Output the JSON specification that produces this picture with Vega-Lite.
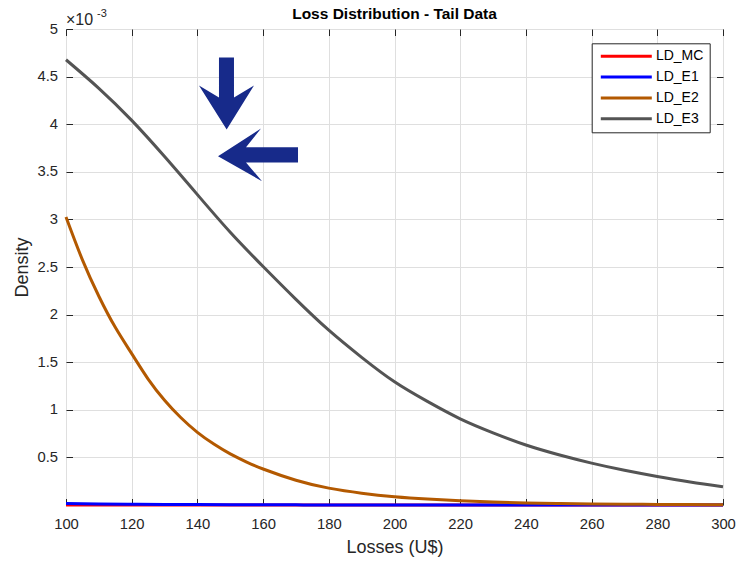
{
  "$schema": "https://vega.github.io/schema/vega-lite/v6.json",
  "autosize": {"type": "none"},
  "padding": {"left": 66, "top": 29, "right": 16, "bottom": 60},
  "width": 657,
  "height": 476,
  "background": "white",
  "config": {
    "font": "Liberation Sans",
    "view": {"stroke": "#555555", "strokeWidth": 1}
  },
  "title": {
    "text": "Loss Distribution - Tail Data",
    "fontSize": 15.5,
    "fontWeight": "bold",
    "color": "#000000",
    "font": "Liberation Sans",
    "anchor": "middle",
    "frame": "group",
    "baseline": "alphabetic",
    "offset": -26.8
  },
  "datasets": {
    "curves": [
      {"Losses": 100, "Series": "LD_MC", "Density": 0},
      {"Losses": 110, "Series": "LD_MC", "Density": 0},
      {"Losses": 120, "Series": "LD_MC", "Density": 0},
      {"Losses": 130, "Series": "LD_MC", "Density": 0},
      {"Losses": 140, "Series": "LD_MC", "Density": 0},
      {"Losses": 150, "Series": "LD_MC", "Density": 0},
      {"Losses": 160, "Series": "LD_MC", "Density": 0},
      {"Losses": 170, "Series": "LD_MC", "Density": 0},
      {"Losses": 180, "Series": "LD_MC", "Density": 0},
      {"Losses": 190, "Series": "LD_MC", "Density": 0},
      {"Losses": 200, "Series": "LD_MC", "Density": 0},
      {"Losses": 210, "Series": "LD_MC", "Density": 0},
      {"Losses": 220, "Series": "LD_MC", "Density": 0},
      {"Losses": 230, "Series": "LD_MC", "Density": 0},
      {"Losses": 240, "Series": "LD_MC", "Density": 0},
      {"Losses": 250, "Series": "LD_MC", "Density": 0},
      {"Losses": 260, "Series": "LD_MC", "Density": 0},
      {"Losses": 270, "Series": "LD_MC", "Density": 0},
      {"Losses": 280, "Series": "LD_MC", "Density": 0},
      {"Losses": 290, "Series": "LD_MC", "Density": 0},
      {"Losses": 300, "Series": "LD_MC", "Density": 0},
      {"Losses": 100, "Series": "LD_E1", "Density": 0.000016},
      {"Losses": 110, "Series": "LD_E1", "Density": 0.000011},
      {"Losses": 120, "Series": "LD_E1", "Density": 0.000008},
      {"Losses": 130, "Series": "LD_E1", "Density": 0.0000055},
      {"Losses": 140, "Series": "LD_E1", "Density": 0.000004},
      {"Losses": 150, "Series": "LD_E1", "Density": 0.0000028},
      {"Losses": 160, "Series": "LD_E1", "Density": 0.000002},
      {"Losses": 170, "Series": "LD_E1", "Density": 0.0000014},
      {"Losses": 180, "Series": "LD_E1", "Density": 0.000001},
      {"Losses": 190, "Series": "LD_E1", "Density": 0.0000007},
      {"Losses": 200, "Series": "LD_E1", "Density": 0.0000005},
      {"Losses": 210, "Series": "LD_E1", "Density": 0.0000004},
      {"Losses": 220, "Series": "LD_E1", "Density": 0.0000003},
      {"Losses": 230, "Series": "LD_E1", "Density": 0.0000002},
      {"Losses": 240, "Series": "LD_E1", "Density": 0.0000002},
      {"Losses": 250, "Series": "LD_E1", "Density": 0.0000001},
      {"Losses": 260, "Series": "LD_E1", "Density": 0.0000001},
      {"Losses": 270, "Series": "LD_E1", "Density": 0.0000001},
      {"Losses": 280, "Series": "LD_E1", "Density": 0.0000001},
      {"Losses": 290, "Series": "LD_E1", "Density": 0},
      {"Losses": 300, "Series": "LD_E1", "Density": 0},
      {"Losses": 100, "Series": "LD_E2", "Density": 0.003025},
      {"Losses": 105, "Series": "LD_E2", "Density": 0.002575},
      {"Losses": 110, "Series": "LD_E2", "Density": 0.002193},
      {"Losses": 115, "Series": "LD_E2", "Density": 0.001866},
      {"Losses": 120, "Series": "LD_E2", "Density": 0.00159},
      {"Losses": 125, "Series": "LD_E2", "Density": 0.001323},
      {"Losses": 130, "Series": "LD_E2", "Density": 0.001101},
      {"Losses": 135, "Series": "LD_E2", "Density": 0.000916},
      {"Losses": 140, "Series": "LD_E2", "Density": 0.000763},
      {"Losses": 145, "Series": "LD_E2", "Density": 0.00064},
      {"Losses": 150, "Series": "LD_E2", "Density": 0.000537},
      {"Losses": 155, "Series": "LD_E2", "Density": 0.000451},
      {"Losses": 160, "Series": "LD_E2", "Density": 0.000378},
      {"Losses": 170, "Series": "LD_E2", "Density": 0.00026},
      {"Losses": 180, "Series": "LD_E2", "Density": 0.000177},
      {"Losses": 190, "Series": "LD_E2", "Density": 0.000124},
      {"Losses": 200, "Series": "LD_E2", "Density": 0.000087},
      {"Losses": 210, "Series": "LD_E2", "Density": 0.000062},
      {"Losses": 220, "Series": "LD_E2", "Density": 0.000044},
      {"Losses": 230, "Series": "LD_E2", "Density": 0.000031},
      {"Losses": 240, "Series": "LD_E2", "Density": 0.000022},
      {"Losses": 250, "Series": "LD_E2", "Density": 0.000016},
      {"Losses": 260, "Series": "LD_E2", "Density": 0.000011},
      {"Losses": 270, "Series": "LD_E2", "Density": 0.000008},
      {"Losses": 280, "Series": "LD_E2", "Density": 0.000006},
      {"Losses": 290, "Series": "LD_E2", "Density": 0.000004},
      {"Losses": 300, "Series": "LD_E2", "Density": 0.000003},
      {"Losses": 100, "Series": "LD_E3", "Density": 0.004677},
      {"Losses": 110, "Series": "LD_E3", "Density": 0.004377},
      {"Losses": 120, "Series": "LD_E3", "Density": 0.00404},
      {"Losses": 130, "Series": "LD_E3", "Density": 0.00366},
      {"Losses": 140, "Series": "LD_E3", "Density": 0.00326},
      {"Losses": 150, "Series": "LD_E3", "Density": 0.002865},
      {"Losses": 160, "Series": "LD_E3", "Density": 0.002505},
      {"Losses": 170, "Series": "LD_E3", "Density": 0.00216},
      {"Losses": 180, "Series": "LD_E3", "Density": 0.001836},
      {"Losses": 190, "Series": "LD_E3", "Density": 0.001551},
      {"Losses": 200, "Series": "LD_E3", "Density": 0.001294},
      {"Losses": 210, "Series": "LD_E3", "Density": 0.001088},
      {"Losses": 220, "Series": "LD_E3", "Density": 0.000905},
      {"Losses": 230, "Series": "LD_E3", "Density": 0.000758},
      {"Losses": 240, "Series": "LD_E3", "Density": 0.00063},
      {"Losses": 250, "Series": "LD_E3", "Density": 0.000528},
      {"Losses": 260, "Series": "LD_E3", "Density": 0.00044},
      {"Losses": 270, "Series": "LD_E3", "Density": 0.000365},
      {"Losses": 280, "Series": "LD_E3", "Density": 0.0003},
      {"Losses": 290, "Series": "LD_E3", "Density": 0.000242},
      {"Losses": 300, "Series": "LD_E3", "Density": 0.000192}
    ],
    "pointers": [
      {"Losses": 148.7, "Density": 0.004323, "Pointer": "down"},
      {"Losses": 158.45, "Density": 0.003678, "Pointer": "left"}
    ],
    "exponent": [
      {"Losses": 100, "Density": 0.005, "Base": "×10", "Power": "-3"}
    ]
  },
  "layer": [
    {
      "data": {"name": "curves"},
      "mark": {"type": "line", "strokeWidth": 3, "interpolate": "natural"},
      "encoding": {
        "x": {
          "field": "Losses",
          "type": "quantitative",
          "scale": {"domain": [100, 300], "nice": false, "zero": false},
          "axis": {
            "orient": "bottom",
            "values": [100, 120, 140, 160, 180, 200, 220, 240, 260, 280, 300],
            "title": "Losses (U$)",
            "titleFont": "Liberation Sans",
            "titleFontSize": 18,
            "titleFontWeight": "normal",
            "titleColor": "#262626",
            "titlePadding": 7,
            "labelFont": "Liberation Sans",
            "labelFontSize": 14.8,
            "labelColor": "#262626",
            "labelPadding": 18,
            "labelFlush": false,
            "labelOverlap": false,
            "domain": false,
            "ticks": true,
            "tickSize": -6.5,
            "tickColor": "#262626",
            "tickWidth": 1,
            "grid": true,
            "gridColor": "#dfdfdf",
            "gridWidth": 1
          }
        },
        "y": {
          "field": "Density",
          "type": "quantitative",
          "scale": {"domain": [0, 0.005], "nice": false, "zero": true},
          "axis": {
            "orient": "left",
            "values": [0, 0.0005, 0.001, 0.0015, 0.002, 0.0025, 0.003, 0.0035, 0.004, 0.0045, 0.005],
            "labelExpr": "datum.value == 0 ? '' : format(datum.value * 1000, '.2~f')",
            "title": "Density",
            "titleFont": "Liberation Sans",
            "titleFontSize": 18,
            "titleFontWeight": "normal",
            "titleColor": "#262626",
            "titlePadding": 5,
            "labelFont": "Liberation Sans",
            "labelFontSize": 14.8,
            "labelColor": "#262626",
            "labelPadding": 15,
            "labelFlush": false,
            "labelOverlap": false,
            "domain": false,
            "ticks": true,
            "tickSize": -6.5,
            "tickColor": "#262626",
            "tickWidth": 1,
            "grid": true,
            "gridColor": "#dfdfdf",
            "gridWidth": 1
          }
        },
        "color": {
          "field": "Series",
          "type": "nominal",
          "scale": {
            "domain": ["LD_MC", "LD_E1", "LD_E2", "LD_E3"],
            "range": ["#ff0000", "#0000ff", "#b35900", "#545454"]
          },
          "legend": {
            "orient": "none",
            "direction": "vertical",
            "legendX": 525.7,
            "legendY": 14.3,
            "title": null,
            "symbolType": "M -6.375 0 L 6.375 0",
            "symbolSize": 64,
            "symbolStrokeWidth": 3,
            "symbolOffset": 21.6,
            "labelFont": "Liberation Sans",
            "labelFontSize": 14,
            "labelColor": "#000000",
            "labelOffset": 22.6,
            "fillColor": "#ffffff",
            "strokeColor": "#262626",
            "padding": 6,
            "rowPadding": 6.8
          }
        }
      }
    },
    {
      "data": {"name": "pointers"},
      "mark": {"type": "point", "filled": true, "opacity": 1, "strokeWidth": 0, "color": "#172a8a", "size": 6400},
      "encoding": {
        "x": {
          "field": "Losses",
          "type": "quantitative",
          "axis": {"orient": "top", "values": [100, 120, 140, 160, 180, 200, 220, 240, 260, 280, 300], "labels": false, "title": null, "domain": false, "grid": false, "tickSize": -6.5, "tickColor": "#262626", "tickWidth": 1}
        },
        "y": {
          "field": "Density",
          "type": "quantitative",
          "axis": {"orient": "right", "values": [0.0005, 0.001, 0.0015, 0.002, 0.0025, 0.003, 0.0035, 0.004, 0.0045], "labels": false, "title": null, "domain": false, "grid": false, "tickSize": -6.5, "tickColor": "#262626", "tickWidth": 1}
        },
        "shape": {
          "field": "Pointer",
          "type": "nominal",
          "scale": {
            "domain": ["down", "left"],
            "range": [
              "M -0.175 -0.9 L 0.2 -0.9 L 0.2 0.1 L 0.7 -0.2 L 0.017 0.9 L -0.675 -0.2 L -0.175 0.1 Z",
              "M -1 0.0375 L 0.075 -0.66 L -0.3 -0.19 L 1 -0.19 L 1 0.19 L -0.3 0.19 L 0.1 0.66 Z"
            ]
          },
          "legend": null
        }
      }
    },
    {
      "data": {"name": "exponent"},
      "mark": {"type": "text", "align": "left", "baseline": "alphabetic", "dx": 0, "dy": -4, "fontSize": 16, "font": "Liberation Sans", "color": "#262626"},
      "encoding": {
        "x": {"field": "Losses", "type": "quantitative", "axis": null},
        "y": {"field": "Density", "type": "quantitative", "axis": null},
        "text": {"field": "Base"}
      }
    },
    {
      "data": {"name": "exponent"},
      "mark": {"type": "text", "align": "left", "baseline": "alphabetic", "dx": 31, "dy": -12, "fontSize": 11, "font": "Liberation Sans", "color": "#262626"},
      "encoding": {
        "x": {"field": "Losses", "type": "quantitative", "axis": null},
        "y": {"field": "Density", "type": "quantitative", "axis": null},
        "text": {"field": "Power"}
      }
    }
  ],
  "resolve": {"axis": {"x": "independent", "y": "independent"}}
}
